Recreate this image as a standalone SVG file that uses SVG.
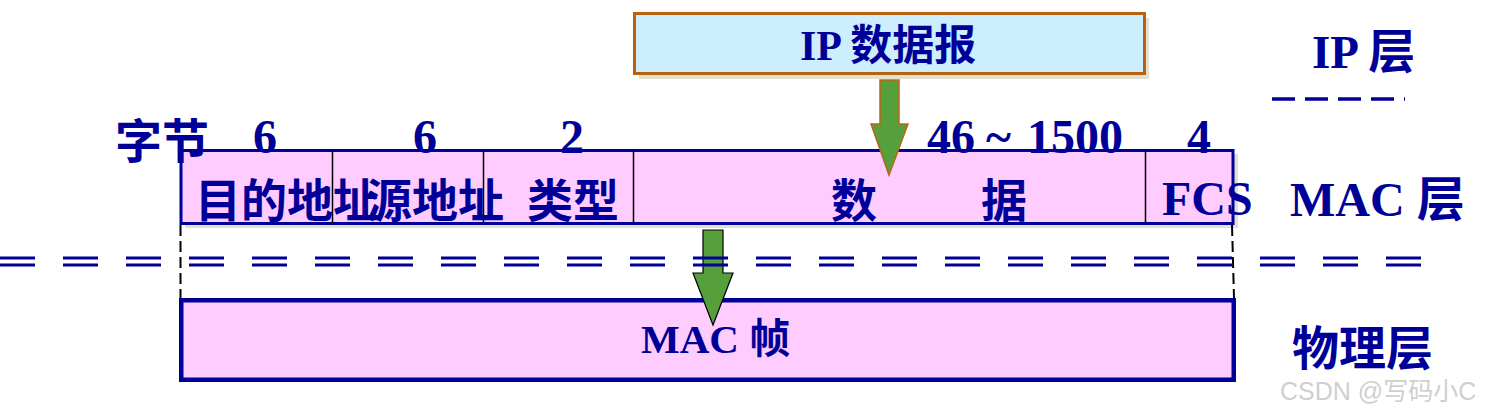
<svg xmlns="http://www.w3.org/2000/svg" width="1502" height="409" viewBox="0 0 1502 409">
<style>
.t{fill:#000099;font-family:"Liberation Serif","Noto Sans CJK SC",serif;font-weight:bold}
.c{fill:#000099;font-family:"Noto Sans CJK SC",sans-serif;font-weight:bold}
.n{font-size:48px;text-anchor:middle}
.div{stroke:#000;stroke-width:1.5}
.shadow{fill:#e3dfd3}
.vdash{stroke:#000;stroke-width:2;stroke-dasharray:11 5;fill:none}
.eq{stroke:#000099;stroke-width:3;stroke-dasharray:35 28;fill:none}
</style>
<rect width="1502" height="409" fill="#fff"/>

<g id="ip-datagram">
<rect class="shadow" x="639" y="18" width="510" height="61"/>
<rect x="634.5" y="13.5" width="510" height="60" fill="#cceeff" stroke="#b8620f" stroke-width="3"/>
<text class="t" x="800" y="60" font-size="42">IP 数据报</text>
</g>

<g id="mac-fields">
<rect class="shadow" x="185" y="154" width="1053" height="74"/>
<rect x="181" y="150.5" width="1052" height="73" fill="#ffccff" stroke="#000099" stroke-width="3"/>
<line class="div" x1="332.5" y1="151" x2="332.5" y2="223"/>
<line class="div" x1="483.5" y1="151" x2="483.5" y2="223"/>
<line class="div" x1="633.5" y1="151" x2="633.5" y2="223"/>
<line class="div" x1="1145.5" y1="151" x2="1145.5" y2="223"/>
<text class="c" x="195" y="217" font-size="46">目的地址</text>
<text class="c" x="366" y="217" font-size="46">源地址</text>
<text class="c" x="527" y="217" font-size="46">类型</text>
<text class="c" x="831" y="217" font-size="46">数</text>
<text class="c" x="981" y="217" font-size="46">据</text>
<text class="t" x="1162" y="215" font-size="48">FCS</text>
</g>

<g id="byte-counts">
<text class="c" x="115" y="158" font-size="47">字节</text>
<text class="t n" x="265" y="153">6</text>
<text class="t n" x="425" y="153">6</text>
<text class="t n" x="572" y="153">2</text>
<text class="t" y="153" font-size="48"><tspan x="927">46</tspan><tspan x="986">~</tspan><tspan x="1027">1500</tspan></text>
<text class="t n" x="1199" y="153">4</text>
</g>

<g id="mac-frame">
<rect x="181.25" y="300.25" width="1052.5" height="79.5" fill="#ffccff" stroke="#000099" stroke-width="4.5"/>
<text class="t" x="641" y="353" font-size="41">MAC 帧</text>
</g>

<g id="layer-labels">
<text class="t" x="1312" y="68" font-size="47">IP 层</text>
<text class="t" x="1290" y="216" font-size="48">MAC 层</text>
<text class="c" x="1292" y="365" font-size="47">物理层</text>
<line x1="1272" y1="99" x2="1405" y2="99" stroke="#000099" stroke-width="3.5" stroke-dasharray="23 10"/>
</g>

<g id="connectors">
<polygon points="880,80 899,80 899,124 908,124 889,175 871,124 880,124" fill="#56a03c" stroke="#b8651a" stroke-width="1.5"/>
<polygon points="703,230 723,230 723,273 733,273 713,325 693,273 703,273" fill="#56a03c" stroke="#000" stroke-width="1.2"/>
</g>

<g id="separators">
<line class="eq" x1="0" y1="258" x2="1422" y2="258"/>
<line class="eq" x1="0" y1="265" x2="1422" y2="265"/>
<line class="vdash" x1="180.5" y1="225" x2="180.5" y2="298"/>
<line class="vdash" x1="1232" y1="225" x2="1234" y2="298"/>
</g>

<text x="1280" y="400" font-size="25" fill="#cfcfcf" font-family="'Liberation Sans','Noto Sans CJK SC',sans-serif">CSDN @写码小C</text>
</svg>
